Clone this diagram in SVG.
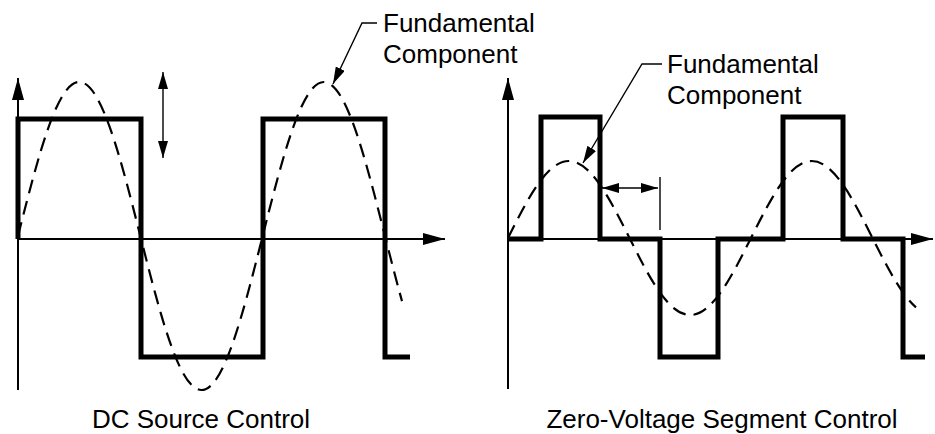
<svg xmlns="http://www.w3.org/2000/svg" width="935" height="434" viewBox="0 0 935 434">
<style>
.axis{stroke:#000;stroke-width:2;fill:none}
.wave{stroke:#000;stroke-width:5;fill:none;stroke-linejoin:miter;stroke-linecap:butt}
.fund{stroke:#000;stroke-width:2.2;fill:none;stroke-dasharray:14 8}
.thin{stroke:#000;stroke-width:1.4;fill:none}
text{font-family:"Liberation Sans",Arial,sans-serif;font-size:26px;fill:#000}
</style>
<defs>
<marker id="ax" viewBox="0 0 22 12" refX="22" refY="6" markerWidth="22" markerHeight="12" markerUnits="userSpaceOnUse" orient="auto-start-reverse">
<path d="M0,0 L22,6 L0,12 z" fill="#000"/>
</marker>
<marker id="ar" viewBox="0 0 17 10" refX="17" refY="5" markerWidth="17" markerHeight="10" markerUnits="userSpaceOnUse" orient="auto-start-reverse">
<path d="M0,0 L17,5 L0,10 z" fill="#000"/>
</marker>
</defs>
<rect width="935" height="434" fill="#fff"/>

<g id="left-plot">
<line class="axis" x1="18" y1="390" x2="18" y2="78" marker-end="url(#ax)"/>
<line class="axis" x1="18" y1="239" x2="445" y2="239" marker-end="url(#ax)"/>
<path class="fund" d="M18,236 C37.95,157.1 57.03,82 79.17,82 C101.3,82 120.38,157.1 140.33,236 C160.28,314.9 179.36,390 201.5,390 C223.64,390 242.72,314.9 262.67,236 C282.62,157.1 301.7,82 323.83,82 C345.97,82 365.05,157.1 385,236 C390.67,258.41 396.33,280.8 402,301.1"/>
<path class="wave" d="M18,239 L18,119 L141,119 L141,357 L263,357 L263,119 L385,119 L385,357 L410,357"/>
</g>

<g id="right-plot">
<line class="axis" x1="508" y1="389" x2="508" y2="78" marker-end="url(#ax)"/>
<line class="axis" x1="508" y1="239" x2="933" y2="239" marker-end="url(#ax)"/>
<path class="fund" d="M508,238 C527.81,198.55 546.76,161 568.75,161 C590.74,161 609.69,198.55 629.5,238 C649.31,277.45 668.26,315 690.25,315 C712.24,315 731.19,277.45 751,238 C770.81,198.55 789.76,161 811.75,161 C833.74,161 852.69,198.55 872.5,238 C887,266.87 901.5,294.94 916,307.4"/>
<path class="wave" d="M508,239 L541,239 L541,117 L600,117 L600,239 L660,239 L660,357 L718,357 L718,239 L783,239 L783,117 L843,117 L843,239 L903,239 L903,357 L925,357"/>
<line class="thin" x1="660" y1="177" x2="660" y2="230"/>
</g>

<g id="connectors">
<line class="thin" x1="163" y1="72" x2="163" y2="158" marker-start="url(#ar)" marker-end="url(#ar)"/>
<line class="thin" x1="602" y1="188" x2="658" y2="188" marker-start="url(#ar)" marker-end="url(#ar)"/>
<polyline class="thin" points="377,23 362,23 333,84" marker-end="url(#ar)"/>
<polyline class="thin" points="662,64 642,64 583,163" marker-end="url(#ar)"/>
</g>

<g id="label-left">
<text x="383" y="32">Fundamental</text>
<text x="383" y="63">Component</text>
</g>
<g id="label-right">
<text x="667" y="73">Fundamental</text>
<text x="667" y="104">Component</text>
</g>
<g id="captions">
<text x="201" y="428" text-anchor="middle">DC Source Control</text>
<text x="722" y="428" text-anchor="middle">Zero-Voltage Segment Control</text>
</g>
</svg>
